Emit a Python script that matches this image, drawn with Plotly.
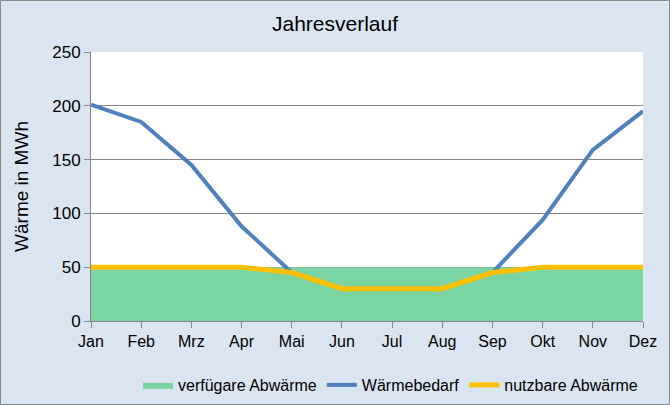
import plotly.graph_objects as go

months = ["Jan", "Feb", "Mrz", "Apr", "Mai", "Jun", "Jul", "Aug", "Sep", "Okt", "Nov", "Dez"]
verfuegbar = [50, 50, 50, 50, 50, 50, 50, 50, 50, 50, 50, 50]
waermebedarf = [201, 185, 145, 88, 45, 30, 30, 30, 45, 94, 159, 195]
nutzbar = [50, 50, 50, 50, 45, 30, 30, 30, 45, 50, 50, 50]
yticks = [0, 50, 100, 150, 200, 250]

x = list(range(len(months)))
font = "Liberation Sans, Arial, sans-serif"

fig = go.Figure()
fig.add_trace(go.Scatter(x=x, y=verfuegbar, name="verfügare Abwärme", mode="lines",
                         line=dict(width=0, color="#7ad5a2"), fill="tozeroy",
                         fillcolor="#7ad5a2"))
fig.add_trace(go.Scatter(x=x, y=waermebedarf, name="Wärmebedarf", mode="lines",
                         line=dict(color="#4f81bd", width=4)))
fig.add_trace(go.Scatter(x=x, y=nutzbar, name="nutzbare Abwärme", mode="lines",
                         line=dict(color="#ffc000", width=5)))

L, R, T, B = 91, 27, 52, 84
W, H = 670, 405
pw, ph = W - L - R, H - T - B

fig.update_layout(
    width=W, height=H,
    margin=dict(l=L, r=R, t=T, b=B, autoexpand=False),
    paper_bgcolor="#dbe5f1",
    plot_bgcolor="#ffffff",
    font=dict(family=font, size=16, color="#000000"),
    title=dict(text="Jahresverlauf", x=0.5, xanchor="center", y=1 - 24 / H,
               yanchor="middle", font=dict(size=21)),
    showlegend=True,
    legend=dict(orientation="h", x=1, xanchor="right", y=-(385 - T - ph) / ph,
                yanchor="middle", font=dict(size=16), bgcolor="rgba(0,0,0,0)",
                itemwidth=30, traceorder="normal"),
    xaxis=dict(range=[0, 11], tickvals=x, ticktext=months, showgrid=False,
               showline=True, linecolor="#868686", linewidth=1, ticks="outside",
               ticklen=6, tickcolor="#868686", zeroline=False, fixedrange=True,
               tickfont=dict(size=16)),
    yaxis=dict(range=[0, 250], tickvals=yticks, showgrid=True, gridcolor="#868686",
               gridwidth=1, showline=True, linecolor="#868686", linewidth=1,
               ticks="outside", ticklen=6, tickcolor="#868686", zeroline=False,
               fixedrange=True,
               title=dict(text="Wärme in MWh", font=dict(size=19), standoff=18),
               tickfont=dict(size=17)),
    shapes=[dict(type="rect", xref="paper", yref="paper",
                 x0=-(L - 0.5) / pw, x1=1 + (R - 0.5) / pw,
                 y0=-(B - 0.5) / ph, y1=1 + (T - 0.5) / ph,
                 line=dict(color="#8a8a8a", width=1), layer="below")],
)

fig.write_html("out.html", config={"displayModeBar": False},
               post_script="document.body.style.margin='0';document.body.style.padding='0';")
